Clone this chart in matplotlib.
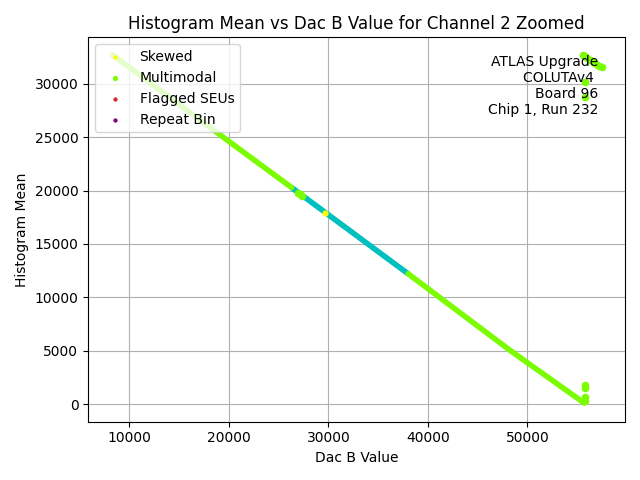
import numpy as np
import matplotlib
matplotlib.use("Agg")
import matplotlib.pyplot as plt

# ---------- data ----------
# main band (multimodal-flagged, lawngreen), vertices along the band
band_x = [8300, 20000, 26300]
band_y = [32700, 24600, 20280]
band2_x = [38000, 48300, 55700]
band2_y = [12210, 5000, 100]

# normal (unflagged) section
norm_x = [26300, 38000]
norm_y = [20280, 12210]

# isolated multimodal points
multi_x = [26900, 27100, 27300, 55600, 55800, 56000, 56300, 56600, 56900, 57200, 57500,
           55800, 55800, 55800, 55800, 55800, 55800]
multi_y = [19750, 19650, 19500, 32700, 32600, 32450, 32250, 32050, 31850, 31700, 31600,
           30200, 28800, 1750, 1500, 650, 300]

# skewed points
skew_x = [29700]
skew_y = [17900]

# ---------- plot ----------
fig, ax = plt.subplots(figsize=(6.4, 4.8), dpi=100)

ax.plot(norm_x, norm_y, color='c', linewidth=4, solid_capstyle='round', zorder=2)
ax.plot(band_x, band_y, color='lawngreen', linewidth=4, solid_capstyle='round', zorder=2)
ax.plot(band2_x, band2_y, color='lawngreen', linewidth=4, solid_capstyle='round', zorder=2)

ax.scatter(skew_x, skew_y, s=12, color='yellow', label='Skewed', zorder=3)
ax.scatter(multi_x, multi_y, s=20, color='lawngreen', label='Multimodal', zorder=3)
ax.scatter([], [], s=12, color='tab:red', label='Flagged SEUs')
ax.scatter([], [], s=12, color='purple', label='Repeat Bin')

ax.set_xlim(5850, 59800)
ax.set_ylim(-1650, 34350)

ax.grid(True)
ax.set_title("Histogram Mean vs Dac B Value for Channel 2 Zoomed")
ax.set_xlabel("Dac B Value")
ax.set_ylabel("Histogram Mean")

ax.text(0.95, 0.955, "ATLAS Upgrade\nCOLUTAv4 \nBoard 96\nChip 1, Run 232",
        transform=ax.transAxes, ha='right', va='top', multialignment='right')

ax.legend(loc='upper left', markerscale=0.6)
plt.tight_layout()
plt.savefig("out.png")
